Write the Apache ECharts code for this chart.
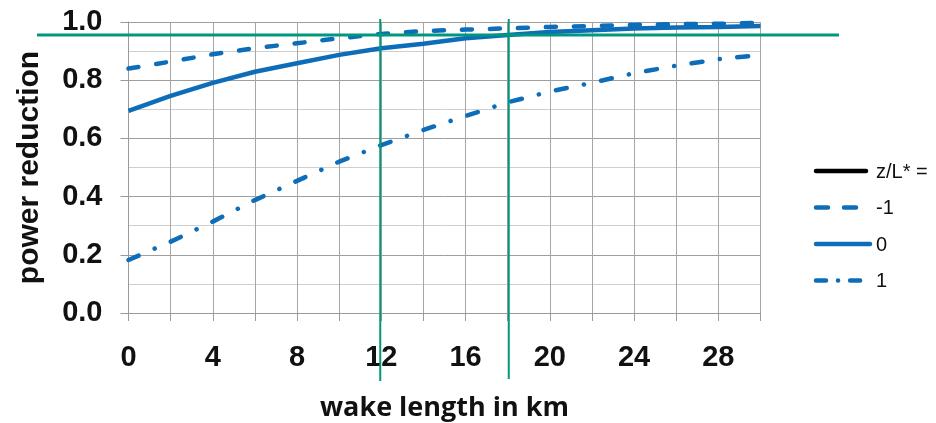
<!DOCTYPE html>
<html>
<head>
<meta charset="utf-8">
<script src="https://cdn.jsdelivr.net/npm/echarts@6/dist/echarts.min.js"></script>
<style>
html,body{margin:0;padding:0;background:#fff;}
#chart{width:936px;height:423px;}
</style>
</head>
<body>
<div id="chart"></div>
<script>
// ---- data ----
const wakeLengthKm = [0, 2, 4, 6, 8, 10, 12, 14, 16, 18, 20, 22, 24, 26, 28, 30];
const seriesNames = ['-1', '0', '1'];
const reductionUnstable = [0.840, 0.864, 0.889, 0.910, 0.927, 0.944, 0.959, 0.969, 0.974, 0.978, 0.983, 0.986, 0.990, 0.993, 0.994, 0.997];
const reductionNeutral  = [0.695, 0.746, 0.791, 0.829, 0.858, 0.887, 0.910, 0.925, 0.944, 0.955, 0.966, 0.972, 0.978, 0.981, 0.983, 0.986];
const reductionStable   = [0.182, 0.245, 0.314, 0.388, 0.454, 0.520, 0.577, 0.629, 0.677, 0.724, 0.761, 0.791, 0.824, 0.850, 0.872, 0.887];
const legendHeader = 'z/L* =';
const xTickLabelStep = 4;
const markerWakeKm = [11.95, 18.05];
const markerReduction = [0.955];

const BLUE = '#0d6db8';
const GREEN = '#00977f';
const FONT = '"Liberation Sans", Arial, sans-serif';
const dashUnstable = [10, 18];
const dashStable = [11, 17.5, 0.1, 17.5];

function pairs(ys) { return wakeLengthKm.map((x, i) => [x, ys[i]]); }

const chart = echarts.init(document.getElementById('chart'), null, {renderer: 'canvas'});

const option = {
  animation: false,
  backgroundColor: '#fff',
  grid: {left: 128.5, right: 175.5, top: 22, bottom: 110, containLabel: false, outerBoundsMode: 'none'},
  xAxis: {
    type: 'value', min: 0, max: 30, interval: 2,
    name: 'wake length in km', nameLocation: 'middle', nameGap: 82,
    nameTextStyle: {fontFamily: '"Open Sans", sans-serif', fontWeight: 'bold', fontSize: 27, color: '#111'},
    axisLine: {show: true, lineStyle: {color: '#9a9a9a', width: 1}},
    axisTick: {show: true, length: 8, lineStyle: {color: '#9a9a9a'}},
    splitLine: {show: true, lineStyle: {color: '#a6a6a6', width: 1}},
    axisLabel: {
      margin: 30, fontFamily: FONT, fontWeight: 'bold', fontSize: 29, color: '#111',
      formatter: v => (v % xTickLabelStep === 0 && v < 30) ? String(v) : ''
    }
  },
  yAxis: {
    type: 'value', min: 0, max: 1, interval: 0.2,
    name: 'power reduction', nameLocation: 'middle', nameGap: 84,
    nameTextStyle: {fontFamily: FONT, fontWeight: 'bold', fontSize: 30, color: '#111'},
    axisLine: {show: true, lineStyle: {color: '#9a9a9a', width: 1}},
    axisTick: {show: true, length: 8, lineStyle: {color: '#9a9a9a'}},
    splitLine: {show: true, lineStyle: {color: '#9e9e9e', width: 1}},
    minorTick: {show: false, splitNumber: 2},
    minorSplitLine: {show: true, lineStyle: {color: '#cfcfcf', width: 1}},
    axisLabel: {
      margin: 26, fontFamily: FONT, fontWeight: 'bold', fontSize: 29, color: '#111',
      formatter: v => v.toFixed(1)
    }
  },
  series: [
    {name: seriesNames[0], type: 'line', data: pairs(reductionUnstable), showSymbol: false, symbol: 'none',
     lineStyle: {color: BLUE, width: 4.5, type: dashUnstable, cap: 'round'}},
    {name: seriesNames[1], type: 'line', data: pairs(reductionNeutral), showSymbol: false, symbol: 'none',
     lineStyle: {color: BLUE, width: 4.5}},
    {name: seriesNames[2], type: 'line', data: pairs(reductionStable), showSymbol: false, symbol: 'none',
     lineStyle: {color: BLUE, width: 4.5, type: dashStable, cap: 'round'}}
  ]
};
chart.setOption(option);

const graphics = [];
// annotation lines placed from data values through the chart's scales
markerReduction.forEach(v => {
  const y = chart.convertToPixel({gridIndex: 0}, [0, v])[1];
  graphics.push({type: 'line', silent: true, z: 100,
    shape: {x1: 37, y1: y, x2: 839, y2: y},
    style: {stroke: GREEN, lineWidth: 3}});
});
markerWakeKm.forEach((v, i) => {
  const x = chart.convertToPixel({gridIndex: 0}, [v, 0])[0];
  graphics.push({type: 'line', silent: true, z: 100,
    shape: {x1: x, y1: 19, x2: x, y2: i === 0 ? 381 : 379},
    style: {stroke: GREEN, lineWidth: 2}});
});
// legend (drawn manually to reproduce line dash icons)
const legendItems = [
  {label: legendHeader, color: '#000', dash: null, x2: 866},
  {label: seriesNames[0], color: BLUE, dash: [12, 16], x2: 858},
  {label: seriesNames[1], color: BLUE, dash: null, x2: 870},
  {label: seriesNames[2], color: BLUE, dash: [10, 12, 0.1, 12], x2: 870}
];
const legendTop = 171, legendStep = 36.5, legendTextX = 876;
legendItems.forEach((it, i) => {
  const y = legendTop + i * legendStep;
  graphics.push({type: 'line', silent: true,
    shape: {x1: 816, y1: y, x2: it.x2, y2: y},
    style: {stroke: it.color, lineWidth: 4.5, lineDash: it.dash, lineCap: 'round'}});
  graphics.push({type: 'text', silent: true, x: legendTextX, y: y + 1,
    style: {text: it.label, fill: '#111', font: '20px ' + FONT, textVerticalAlign: 'middle', verticalAlign: 'middle'}});
});
chart.setOption({graphic: graphics});
</script>
</body>
</html>
